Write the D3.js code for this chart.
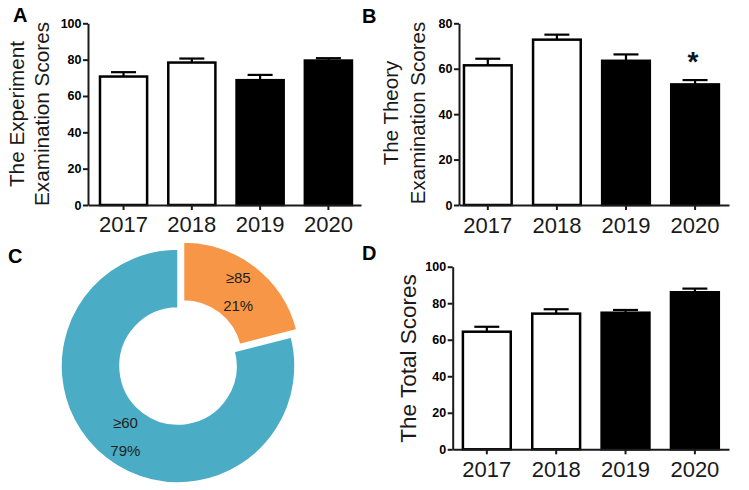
<!DOCTYPE html>
<html><head><meta charset="utf-8">
<script src="https://cdn.jsdelivr.net/npm/d3@7"></script>
<style>
html,body{margin:0;padding:0;background:#fff;}
svg{display:block;font-family:"Liberation Sans",Arial,Helvetica,sans-serif;}
</style></head>
<body>
<svg id="chart" width="749" height="490"></svg>
<script>
// ---------- data ----------
const years = ["2017", "2018", "2019", "2020"];
const barFills = ["#ffffff", "#ffffff", "#000000", "#000000"];

const experimentScores = [70.7, 78.4, 68.7, 79.5];
const experimentErrors = [2.4, 2.2, 2.9, 1.3];
const experimentTicks = [0, 20, 40, 60, 80, 100];

const theoryScores = [61.5, 72.8, 63.5, 53.1];
const theoryErrors = [2.9, 2.2, 2.8, 1.9];
const theoryTicks = [0, 20, 40, 60, 80];
const theorySignificant = [false, false, false, true];

const totalScores = [64.4, 74.3, 74.8, 86.0];
const totalErrors = [2.7, 2.4, 1.5, 2.0];
const totalTicks = [0, 20, 40, 60, 80, 100];

const pieLabels = ["≥85", "≥60"];
const pieValues = [21, 79];
const pieColors = ["#F79646", "#4BACC6"];

// ---------- drawing ----------
const svg = d3.select("#chart");
const ink = "#1a1a1a";
const FONT = '"Liberation Sans",Arial,Helvetica,sans-serif';

function barPanel(o) {
  const g = svg.append("g");
  const x = d3.scaleBand().domain(years).range([o.x0, o.x1])
    .paddingInner(0.31).paddingOuter(o.pO).align(o.align);
  const y = d3.scaleLinear().domain([0, o.yMax]).range([o.yBottom, o.yTop]);

  // bars
  g.selectAll("rect.bar").data(o.values).join("rect")
    .attr("x", (d, i) => x(years[i]))
    .attr("width", x.bandwidth())
    .attr("y", d => y(d))
    .attr("height", d => y(0) - y(d))
    .attr("fill", (d, i) => barFills[i])
    .attr("stroke", "#000").attr("stroke-width", 2.5);

  // error bars (upper)
  const cap = 12.5;
  o.values.forEach((v, i) => {
    const cx = x(years[i]) + x.bandwidth() / 2;
    g.append("line").attr("x1", cx).attr("x2", cx)
      .attr("y1", y(v)).attr("y2", y(v + o.errors[i]))
      .attr("stroke", "#000").attr("stroke-width", 2.2);
    g.append("line").attr("x1", cx - cap).attr("x2", cx + cap)
      .attr("y1", y(v + o.errors[i])).attr("y2", y(v + o.errors[i]))
      .attr("stroke", "#000").attr("stroke-width", 2.2);
    if (o.sig && o.sig[i]) {
      g.append("text").attr("x", cx - 2).attr("y", y(v + o.errors[i]) - 9)
        .attr("text-anchor", "middle").attr("font-size", 28).attr("font-weight", "bold")
        .attr("fill", "#0d1526").text("*");
    }
  });

  // y axis
  const ya = g.append("g").attr("transform", `translate(${o.x0},0)`)
    .call(d3.axisLeft(y).tickValues(o.ticks).tickSize(5).tickSizeOuter(0).tickPadding(1.5));
  ya.attr("font-family", FONT);
  ya.selectAll("text").attr("font-size", 12.5).attr("font-weight", "bold")
    .attr("fill", "#000");
  ya.selectAll("line").attr("stroke", ink).attr("stroke-width", 2);
  ya.select(".domain").attr("stroke", ink).attr("stroke-width", 2);

  // x axis
  const xa = g.append("g").attr("transform", `translate(0,${o.yBottom})`)
    .call(d3.axisBottom(x).tickSize(5).tickSizeOuter(0).tickPadding(o.xPad));
  xa.attr("font-family", FONT);
  xa.selectAll("text").attr("font-size", 22).attr("fill", ink);
  xa.selectAll("line").attr("stroke", ink).attr("stroke-width", 2);
  xa.select(".domain").attr("stroke", ink).attr("stroke-width", 2);

  // y title
  const cy = o.titleY;
  o.title.forEach((line, i) => {
    g.append("text")
      .attr("transform", `translate(${o.titleX[i]},${cy}) rotate(-90)`)
      .attr("text-anchor", "middle").attr("font-size", o.titleSize)
      .attr("fill", ink).text(line);
  });
}

barPanel({
  x0: 88, x1: 361, pO: 0.154, align: 0.57,
  yTop: 23.3, yBottom: 205, yMax: 100,
  values: experimentScores, errors: experimentErrors, ticks: experimentTicks,
  xPad: 6.5, title: ["The Experiment", "Examination Scores"],
  titleX: [24, 49], titleY: 114, titleSize: 20.7
});

barPanel({
  x0: 459, x1: 729, pO: 0.109, align: 0.33,
  yTop: 23.3, yBottom: 205, yMax: 80,
  values: theoryScores, errors: theoryErrors, ticks: theoryTicks, sig: theorySignificant,
  xPad: 7.5, title: ["The Theory", "Examination Scores"],
  titleX: [398, 425], titleY: 113, titleSize: 20.5
});

barPanel({
  x0: 452.7, x1: 729, pO: 0.147, align: 0.5,
  yTop: 266.7, yBottom: 449.3, yMax: 100,
  values: totalScores, errors: totalErrors, ticks: totalTicks,
  xPad: 7, title: ["The Total Scores"],
  titleX: [416], titleY: 358.5, titleSize: 22.5
});

// ---------- donut ----------
const pcx = 178, pcy = 366, R = 117, r0 = 58, explode = 9;
const pie = d3.pie().sort(null).value(d => d)(pieValues);
const arc = d3.arc().innerRadius(r0).outerRadius(R);
const pg = svg.append("g").attr("transform", `translate(${pcx},${pcy})`);
pie.forEach((p, i) => {
  const mid = (p.startAngle + p.endAngle) / 2;
  const off = i === 0 ? explode : 0;
  const dx = Math.sin(mid) * off, dy = -Math.cos(mid) * off;
  const sg = pg.append("g").attr("transform", `translate(${dx},${dy})`);
  sg.append("path").attr("d", arc(p)).attr("fill", pieColors[i])
    .attr("stroke", "#fff").attr("stroke-width", 1.5);
  const c = arc.centroid(p);
  sg.append("text").attr("x", c[0] + 1).attr("y", c[1] - 7)
    .attr("text-anchor", "middle").attr("font-size", 15).attr("fill", "#1f1f1f")
    .text(pieLabels[i]);
  sg.append("text").attr("x", c[0] + 1).attr("y", c[1] + 21)
    .attr("text-anchor", "middle").attr("font-size", 15).attr("fill", "#1f1f1f")
    .text(pieValues[i] + "%");
});

// ---------- panel letters ----------
const letters = [["A", 13, 22], ["B", 362, 23], ["C", 8, 263], ["D", 362, 260]];
svg.selectAll("text.letter").data(letters).join("text")
  .attr("class", "letter")
  .attr("x", d => d[1]).attr("y", d => d[2])
  .attr("font-size", 20).attr("font-weight", "bold").attr("fill", "#000")
  .text(d => d[0]);
</script>
</body></html>
